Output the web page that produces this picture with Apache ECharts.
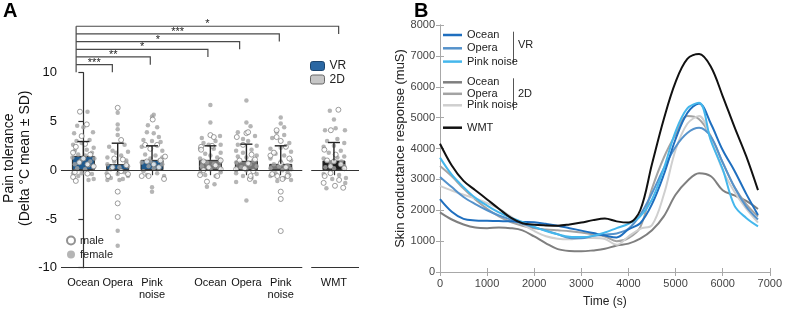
<!DOCTYPE html>
<html>
<head>
<meta charset="utf-8">
<script src="https://cdn.jsdelivr.net/npm/echarts@6/dist/echarts.min.js"></script>
<style>
  html, body { margin: 0; padding: 0; background: #fff; }
  #main { width: 785px; height: 313px; }
</style>
</head>
<body>
<div id="main"></div>
<script>
// A: pain tolerance (bar = mean, whisker = SD, dots = subjects); B: skin conductance over time

// ---- panel A data ----
const catLabels = ['Ocean', 'Opera', 'Pink\nnoise', 'Ocean', 'Opera', 'Pink\nnoise', 'WMT'];
const catPos = [0, 1, 2, 3.7, 4.75, 5.75, 7.3];
const catGroup = ['VR', 'VR', 'VR', '2D', '2D', '2D', 'WMT'];
const meanVals = [1.47, 0.62, 1.06, 1.06, 0.96, 0.65, 0.99];
const sdVals = [1.47, 2.15, 1.44, 1.44, 1.71, 1.85, 1.85];

// [jitter, value] per group
const femaleDots = [
  [[0.12,6.0],[-0.18,4.55],[0.0,4.4],[-0.27,3.8],[0.28,3.9],[-0.2,3.0],[0.18,3.1],[-0.3,2.6],[0.3,2.3],[-0.05,2.8],[-0.25,2.0],[0.1,2.1],[0.25,1.8],[-0.15,1.6],[0.05,1.5],[-0.32,1.3],[0.32,1.2],[-0.08,1.0],[0.2,0.9],[-0.25,0.6],[0.15,0.5],[0.3,0.3],[-0.18,0.2],[0.05,0.1],[-0.3,-0.3],[0.25,-0.4],[-0.15,-0.6],[0.15,-1.0],[0.3,-0.9],[-0.05,-0.3]],
  [[0.0,5.9],[0.0,4.7],[0.0,4.2],[0.0,3.6],[-0.25,2.4],[0.2,2.6],[-0.15,2.0],[0.3,1.9],[-0.3,1.3],[0.1,1.5],[0.25,1.0],[-0.1,0.9],[-0.3,0.6],[0.3,0.4],[0.05,0.3],[-0.2,0.1],[0.2,-0.2],[-0.32,-0.3],[0.0,-0.4],[0.3,-0.6],[-0.2,-0.8],[0.15,-0.9],[-0.3,-1.0],[0.05,-1.0],[0.0,-6.2],[0.0,-7.75],[0.25,0.8],[-0.05,1.8]],
  [[0.05,5.7],[0.0,5.5],[-0.12,4.6],[0.15,4.4],[-0.15,3.9],[0.05,3.8],[0.2,3.4],[-0.25,3.1],[0.0,3.0],[0.25,2.9],[-0.3,2.4],[0.3,2.0],[-0.2,1.6],[0.1,1.5],[-0.05,1.2],[0.22,1.0],[-0.3,0.8],[0.3,0.6],[-0.1,0.4],[0.05,0.2],[-0.25,-0.1],[0.35,-0.6],[-0.15,-0.5],[0.15,-0.3],[0.0,-1.75],[0.0,-2.2],[0.3,1.3],[-0.05,0.9]],
  [[0.0,6.7],[0.0,4.9],[-0.25,3.3],[0.28,3.5],[-0.2,2.8],[0.15,3.0],[0.3,2.6],[-0.3,2.2],[0.1,2.2],[0.3,1.8],[-0.15,1.7],[0.0,1.5],[-0.3,1.2],[0.2,1.3],[0.3,0.9],[-0.1,0.8],[0.1,0.6],[-0.25,0.4],[0.25,0.3],[0.0,0.1],[-0.3,-0.3],[0.3,-0.2],[-0.15,-0.5],[0.15,-0.6],[-0.1,-1.7],[0.12,-1.45],[0.28,1.1],[-0.05,2.6]],
  [[0.0,7.15],[0.0,4.9],[0.12,4.5],[-0.25,3.9],[0.25,3.5],[-0.1,3.2],[0.05,3.0],[-0.25,2.6],[0.3,2.5],[-0.3,2.0],[0.15,2.1],[-0.1,1.8],[0.3,1.5],[-0.25,1.4],[0.0,1.3],[0.2,1.0],[-0.3,0.8],[0.1,0.6],[0.3,0.4],[-0.15,0.3],[0.0,0.0],[-0.3,-0.3],[0.3,-0.4],[-0.1,-0.6],[0.15,-0.8],[-0.3,-1.2],[0.25,-1.2],[0.0,-3.1]],
  [[0.0,5.4],[0.0,4.8],[0.1,4.4],[-0.12,3.9],[0.1,3.6],[-0.25,3.3],[0.25,2.8],[-0.3,2.2],[0.0,2.3],[0.3,1.9],[-0.15,1.7],[0.1,1.5],[-0.3,1.2],[0.3,1.0],[0.0,0.9],[-0.2,0.6],[0.2,0.5],[-0.3,0.2],[0.3,0.1],[0.05,0.0],[-0.15,-0.3],[0.25,-0.5],[-0.3,-0.6],[0.1,-0.8],[-0.1,-1.1],[0.3,-1.0],[0.2,-0.2],[-0.05,0.4]],
  [[-0.12,6.1],[0.0,5.2],[-0.26,4.1],[0.05,4.3],[0.32,4.1],[-0.2,3.0],[0.1,3.2],[0.3,2.8],[-0.3,2.4],[0.2,2.0],[0.0,2.5],[-0.15,1.8],[0.3,1.4],[-0.3,1.2],[0.1,1.3],[0.22,0.9],[-0.1,0.8],[0.3,0.4],[-0.25,0.3],[0.0,0.2],[-0.3,-0.4],[0.15,-0.5],[0.35,-0.8],[-0.22,-1.85],[0.33,-1.3],[-0.05,-0.9]],
];
const maleDots = [
  [[-0.1,6.0],[0.1,4.7],[-0.05,3.5],[-0.22,2.4],[0.05,2.7],[-0.3,1.8],[0.2,1.6],[0.0,1.2],[-0.12,0.8],[0.12,0.6],[0.3,0.4],[-0.25,-0.2],[-0.3,-0.7],[-0.22,-1.1],[0.12,-0.35]],
  [[0.0,6.4],[0.1,3.1],[-0.1,1.2],[0.15,1.1],[0.25,0.5],[-0.15,0.3],[0.1,-0.1],[-0.28,-0.6],[0.3,-0.4],[0.0,-2.2],[0.0,-3.4],[0.0,-4.8]],
  [[0.02,5.2],[-0.2,2.6],[0.15,2.6],[-0.05,2.2],[0.38,1.4],[0.25,1.0],[-0.15,0.9],[0.05,0.6],[0.2,0.3],[-0.3,-0.6],[-0.1,-0.6],[0.35,-0.9]],
  [[0.0,3.6],[0.1,3.4],[-0.27,2.4],[-0.27,2.1],[0.05,2.5],[0.3,1.0],[-0.2,0.9],[0.15,0.5],[-0.05,0.3],[0.3,0.1],[-0.3,-0.5],[0.2,-0.6],[-0.1,-1.17],[-0.2,0.0]],
  [[-0.28,3.4],[0.0,3.8],[0.05,3.9],[-0.1,2.6],[0.15,1.6],[0.25,1.1],[-0.2,1.0],[0.05,0.7],[-0.05,0.2],[0.2,-0.1],[-0.3,0.1],[0.1,-0.9],[0.12,-0.6]],
  [[-0.12,4.1],[-0.12,3.4],[0.0,3.0],[0.15,2.4],[-0.3,1.5],[-0.2,1.8],[0.25,1.2],[0.0,0.7],[0.15,0.3],[-0.25,-0.4],[-0.1,-0.6],[0.2,-0.6],[0.0,-2.2],[0.0,-2.95],[0.0,-6.24],[0.05,-0.9]],
  [[0.13,6.2],[-0.09,4.1],[-0.28,2.1],[0.05,1.6],[-0.2,1.0],[0.2,0.6],[0.0,0.9],[0.3,0.2],[-0.1,0.4],[-0.27,-0.6],[-0.3,-1.3],[0.03,-1.6],[0.27,-1.8],[0.15,-1.0],[-0.1,-0.3]],
];

// significance brackets: all start left of VR Ocean
const sigStart = -0.17;
const sigEnd = [0.88, 1.98, 3.65, 4.57, 5.72, 7.44];
const sigText = ['***', '**', '*', '*', '***', '*'];

// ---- panel B data ----
const timeS = [0,250,500,750,1000,1250,1500,1750,2000,2250,2500,2750,3000,3250,3500,3750,4000,4250,4500,4750,5000,5250,5500,5750,6000,6250,6500,6750];
const scrVrOcean = [2360,1950,1720,1670,1660,1650,1640,1620,1610,1560,1500,1420,1340,1260,1180,1120,1380,1580,2200,3150,4300,5150,5460,4800,3950,3280,2530,1850];
const scrVrOpera = [3080,2750,2430,2200,2000,1830,1700,1560,1450,1340,1220,1100,1090,1170,1210,1250,1400,1850,2550,3350,4050,4500,4670,4380,3550,2750,2120,1700];
const scrVrPink = [3705,3150,2750,2400,2150,1930,1760,1620,1460,1330,1220,1140,1130,1170,1280,1420,1560,1800,2350,3350,4550,5300,5480,4250,3330,2150,1750,1480];
const scr2dOcean = [1933,1700,1540,1440,1420,1440,1420,1350,1150,930,740,680,670,700,750,860,920,1080,1350,1800,2500,2950,3200,3100,2650,2480,2300,2040];
const scr2dOpera = [3434,3100,2700,2350,2050,1800,1620,1500,1420,1380,1350,1320,1280,1220,1150,1000,1100,1450,2700,3700,4450,5050,4950,4400,3550,2750,2200,1800];
const scr2dPink = [2790,2640,2500,2380,2230,2050,1800,1550,1330,1160,1080,1060,1100,1100,1070,880,1150,1400,1520,2500,3950,4800,5050,4300,3300,2600,2050,1600];
const scrWmt = [4155,3450,2950,2650,2350,2050,1760,1580,1530,1510,1500,1540,1600,1680,1730,1640,1600,2000,3500,4950,6150,6900,7060,6650,5700,4700,3750,2650];

const FONT = '"Liberation Sans", Arial, sans-serif';
const xMin = -0.652, xMax = 8.03;
const brkFrom = 6.377, brkTo = 6.638; // x-axis break before WMT

const chart = echarts.init(document.getElementById('main'));

function dotSeries(name, groups, size, style) {
  return {
    name, type: 'scatter', xAxisIndex: 0, yAxisIndex: 0, z: 3,
    symbolSize: size, itemStyle: style, silent: true,
    data: groups.flatMap((g, gi) => g.map(([dx, v]) => [catPos[gi] + dx, v])),
  };
}

function barSeries(name, key, color) {
  return {
    name, type: 'bar', xAxisIndex: 0, yAxisIndex: 0, z: 2,
    barWidth: 23, barGap: '-100%', silent: true,
    itemStyle: { color, borderColor: '#2a2a2a', borderWidth: 1 },
    data: catPos.map((x, i) => catGroup[i] === key ? [x, meanVals[i]] : null).filter(Boolean),
  };
}

function scrLine(name, vals, color) {
  return {
    name, type: 'line', xAxisIndex: 2, yAxisIndex: 2, symbol: 'none', smooth: 0.35,
    lineStyle: { width: 2, color }, itemStyle: { color },
    data: timeS.map((t, i) => [t, vals[i]]),
  };
}

const axisSeg = (y) => [
  [{ coord: [xMin, y] }, { coord: [brkFrom, y] }],
  [{ coord: [brkTo, y] }, { coord: [xMax, y] }],
];

const bAxisLine = { lineStyle: { color: '#a8a8a8', width: 1 } };
const bTick = { inside: true, length: 4, lineStyle: { color: '#a8a8a8' } };
const lineLegend = {
  orient: 'vertical', left: 443, padding: 0, icon: 'rect',
  itemWidth: 19, itemHeight: 2.5, selectedMode: false,
  formatter: n => n.replace(/^(VR|2D) /, ''),
  textStyle: { fontSize: 11, lineHeight: 11, color: '#222' },
};

chart.setOption({
  animation: false,
  textStyle: { fontFamily: FONT },
  title: [
    { text: 'A', left: 3, top: 1, padding: 0, textStyle: { fontSize: 20, fontWeight: 'bold', color: '#000', fontFamily: FONT } },
    { text: 'B', left: 414, top: 1, padding: 0, textStyle: { fontSize: 20, fontWeight: 'bold', color: '#000', fontFamily: FONT } },
  ],
  grid: [
    { left: 59.5, right: 426, top: 72.7, bottom: 45.3 },
    { left: 59.5, right: 426, top: 10.9, height: 61.4 },
    { left: 440, right: 14, top: 25, bottom: 39.7 },
  ],
  legend: [
    {
      data: [
        { name: 'VR', itemStyle: { color: '#2a67a3', borderColor: '#1c456e', borderWidth: 1 } },
        { name: '2D', itemStyle: { color: '#c6c6c6', borderColor: '#666', borderWidth: 1 } },
      ],
      orient: 'vertical', left: 310, top: 60, padding: 0, itemWidth: 14, itemHeight: 9, itemGap: 1.5,
      selectedMode: false, textStyle: { fontSize: 12, lineHeight: 12, color: '#222' },
    },
    {
      data: ['male', 'female'], orient: 'vertical', left: 66, top: 235, padding: 0,
      itemWidth: 8, itemHeight: 8, itemGap: 3, selectedMode: false,
      textStyle: { fontSize: 11, lineHeight: 11, color: '#222' },
    },
    Object.assign({ data: ['VR Ocean', 'VR Opera', 'VR Pink noise'], top: 29.5, itemGap: 2.3 }, lineLegend),
    Object.assign({ data: ['2D Ocean', '2D Opera', '2D Pink noise'], top: 76.8, itemGap: 0.5 }, lineLegend),
    Object.assign({ data: ['WMT'], top: 122.2 }, lineLegend),
  ],
  graphic: [
    { type: 'line', shape: { x1: 513.5, y1: 31.7, x2: 513.5, y2: 63.3 }, style: { stroke: '#555', lineWidth: 1 } },
    { type: 'line', shape: { x1: 513.5, y1: 78.3, x2: 513.5, y2: 110 }, style: { stroke: '#555', lineWidth: 1 } },
    { type: 'text', x: 518, y: 45, style: { text: 'VR', fontSize: 11, fontFamily: FONT, fill: '#222', textVerticalAlign: 'middle', verticalAlign: 'middle' } },
    { type: 'text', x: 518, y: 94, style: { text: '2D', fontSize: 11, fontFamily: FONT, fill: '#222', textVerticalAlign: 'middle', verticalAlign: 'middle' } },
  ],
  xAxis: [
    {
      gridIndex: 0, type: 'value', min: xMin, max: xMax,
      axisLine: { show: false }, splitLine: { show: false },
      axisTick: { show: true, customValues: catPos, length: 5, lineStyle: { color: '#333', width: 1.2 } },
      axisLabel: {
        customValues: catPos, margin: 9, fontSize: 11, lineHeight: 12.5, color: '#111',
        formatter: v => catLabels[catPos.findIndex(p => Math.abs(p - v) < 1e-6)] || '',
      },
    },
    { gridIndex: 1, type: 'value', min: xMin, max: xMax, show: false },
    {
      gridIndex: 2, type: 'value', min: 0, max: 7000, interval: 1000,
      axisLine: bAxisLine, axisTick: bTick, splitLine: { show: false },
      axisLabel: { fontSize: 11, color: '#444', margin: 6, formatter: v => String(v) },
      name: 'Time (s)', nameLocation: 'middle', nameGap: 24,
      nameTextStyle: { fontSize: 12, color: '#222' },
    },
    {
      gridIndex: 2, type: 'value', min: 0, max: 7000, interval: 1000, position: 'top',
      axisLine: bAxisLine, axisTick: bTick, axisLabel: { show: false }, splitLine: { show: false },
    },
  ],
  yAxis: [
    {
      gridIndex: 0, type: 'value', min: -10, max: 10, interval: 5,
      axisLine: { show: true, lineStyle: { color: '#333', width: 1.2 } },
      axisTick: { show: true, length: 5, lineStyle: { color: '#333', width: 1.2 } },
      axisLabel: { fontSize: 13, color: '#111', margin: 4 },
      splitLine: { show: false },
      name: 'Pain tolerance\n(Delta °C mean ± SD)', nameLocation: 'middle', nameRotate: 90, nameGap: 28,
      nameTextStyle: { fontSize: 14, lineHeight: 16, color: '#111', padding: [0, 0, 0, 24] },
    },
    { gridIndex: 1, type: 'value', min: 0, max: 8, show: false },
    {
      gridIndex: 2, type: 'value', min: 0, max: 8000, interval: 1000,
      axisLine: bAxisLine, axisTick: bTick, splitLine: { show: false },
      axisLabel: { fontSize: 11, color: '#444', margin: 5, formatter: v => String(v) },
      name: 'Skin conductance response (muS)', nameLocation: 'middle', nameGap: 29,
      nameTextStyle: { fontSize: 13, color: '#222' },
    },
    {
      gridIndex: 2, type: 'value', min: 0, max: 8000, interval: 1000, position: 'right',
      axisLine: bAxisLine, axisTick: bTick, axisLabel: { show: false }, splitLine: { show: false },
    },
  ],
  series: [
    Object.assign(barSeries('VR', 'VR', '#1f5a8e'), {
      markLine: {
        symbol: 'none', silent: true, label: { show: false },
        lineStyle: { color: '#333', width: 1.2, type: 'solid' },
        data: [...axisSeg(0), ...axisSeg(-10)],
      },
    }),
    barSeries('2D', '2D', '#767676'),
    barSeries('WMT group', 'WMT', '#1e1e1e'),
    dotSeries('female', femaleDots, 4.5, { color: '#a3a3a3' }),
    dotSeries('male', maleDots, 5, { color: '#fff', borderColor: '#777', borderWidth: 0.9 }),
    {
      type: 'custom', xAxisIndex: 0, yAxisIndex: 0, z: 5, silent: true,
      data: catPos.map((x, i) => [x, meanVals[i], sdVals[i]]),
      renderItem(params, api) {
        const x = api.value(0), m = api.value(1), s = api.value(2);
        const p0 = api.coord([x, m]), p1 = api.coord([x, m + s]);
        const st = { stroke: '#222', lineWidth: 1.4 };
        return {
          type: 'group', children: [
            { type: 'line', shape: { x1: p0[0], y1: p0[1], x2: p1[0], y2: p1[1] }, style: st },
            { type: 'line', shape: { x1: p1[0] - 6, y1: p1[1], x2: p1[0] + 6, y2: p1[1] }, style: st },
          ],
        };
      },
    },
    {
      type: 'custom', xAxisIndex: 1, yAxisIndex: 1, silent: true,
      data: sigEnd.map((e, k) => [e, k + 1]),
      renderItem(params, api) {
        const k = params.dataIndex;
        const end = api.value(0), lvl = api.value(1);
        const a = api.coord([sigStart, lvl]), b = api.coord([end, lvl]), c = api.coord([end, lvl - 1]);
        const st = { stroke: '#4a4a4a', lineWidth: 1.2, fill: null };
        const children = [
          { type: 'polyline', shape: { points: [a, b, c] }, style: st },
          {
            type: 'text', x: (a[0] + b[0]) / 2, y: a[1] - 2,
            style: { text: sigText[k], fontSize: 11, fontFamily: FONT, fill: '#222',
              align: 'center', textAlign: 'center', verticalAlign: 'middle', textVerticalAlign: 'middle' },
          },
        ];
        if (k === sigEnd.length - 1) {
          const base = api.coord([sigStart, 0]);
          children.push({ type: 'line', shape: { x1: a[0], y1: a[1], x2: base[0], y2: base[1] }, style: st });
        }
        return { type: 'group', children };
      },
    },
    scrLine('2D Ocean', scr2dOcean, '#7f7f7f'),
    scrLine('2D Opera', scr2dOpera, '#a3a3a3'),
    scrLine('2D Pink noise', scr2dPink, '#cfcfcf'),
    scrLine('VR Opera', scrVrOpera, '#5592cb'),
    scrLine('VR Ocean', scrVrOcean, '#1f6fbf'),
    scrLine('VR Pink noise', scrVrPink, '#45b7ec'),
    scrLine('WMT', scrWmt, '#111'),
  ],
});
</script>
</body>
</html>
